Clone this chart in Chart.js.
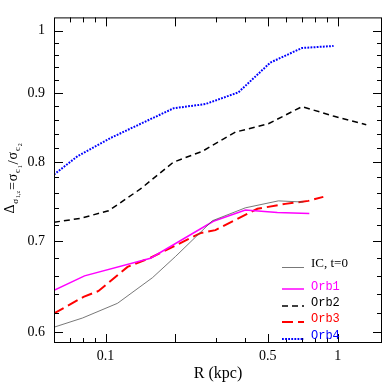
<!DOCTYPE html>
<html>
<head>
<meta charset="utf-8">
<script src="https://cdn.jsdelivr.net/npm/chart.js@4.4.0/dist/chart.umd.min.js"></script>
<style>
  html, body { margin: 0; padding: 0; background: #fff; }
</style>
</head>
<body>
<canvas id="myChart" width="391" height="391"></canvas>
<script>
// R (kpc) and sigma ratio for each run
const rIC = [0.06, 0.0796, 0.1126, 0.1593, 0.2, 0.2885, 0.4, 0.555, 0.711];
const dIC = [0.605, 0.6145, 0.630, 0.658, 0.682, 0.7247, 0.7407, 0.7495, 0.748];

const rOrb1 = [0.06, 0.0812, 0.1562, 0.2913, 0.4, 0.549, 0.754];
const dOrb1 = [0.644, 0.660, 0.680, 0.724, 0.738, 0.735, 0.7336];

const rOrb2 = [0.06, 0.0781, 0.103, 0.1414, 0.1961, 0.2614, 0.3623, 0.5025, 0.7015, 0.956, 1.326];
const dOrb2 = [0.7228, 0.7277, 0.737, 0.7648, 0.8004, 0.8153, 0.8422, 0.8542, 0.8794, 0.8655, 0.8528];

const rOrb3 = [0.06, 0.0804, 0.0933, 0.1244, 0.1562, 0.2563, 0.2972, 0.4506, 0.5943, 0.7465, 0.8662];
const dOrb3 = [0.6193, 0.6369, 0.6433, 0.6701, 0.6806, 0.7096, 0.7132, 0.7395, 0.7457, 0.7495, 0.7546];

const rOrb4 = [0.06, 0.0758, 0.1051, 0.1442, 0.1967, 0.2692, 0.3733, 0.5124, 0.7015, 0.959];
const dOrb4 = [0.7837, 0.8085, 0.8338, 0.8554, 0.877, 0.8832, 0.9009, 0.9476, 0.9713, 0.9746];

const seriesNames = ['IC, t=0', 'Orb1', 'Orb2', 'Orb3', 'Orb4'];

// axis ticks
const xTickVals = [0.07, 0.08, 0.09, 0.1, 0.2, 0.3, 0.4, 0.5, 0.6, 0.7, 0.8, 0.9, 1];
const xMajor = [0.1, 0.2, 0.5, 1];
const xLabels = [0.1, 0.5, 1];
const yTickVals = [0.6, 0.62, 0.64, 0.66, 0.68, 0.7, 0.72, 0.74, 0.76, 0.78, 0.8,
                   0.82, 0.84, 0.86, 0.88, 0.9, 0.92, 0.94, 0.96, 0.98, 1];
const yLabels = [0.6, 0.7, 0.8, 0.9, 1];

const serif = '"Liberation Serif", "DejaVu Serif", serif';
const mono = '"Liberation Mono", "DejaVu Sans Mono", monospace';

const pts = (rs, ds) => rs.map((r, i) => ({x: r, y: ds[i]}));
const isIn = (list, v) => list.some(l => Math.abs(l - v) < 1e-9);

// frame with inward ticks on all four sides
const framePlugin = {
    id: 'frame',
    afterDatasetsDraw(chart) {
        const {ctx, chartArea: a, scales: {x, y}} = chart;
        ctx.save();
        ctx.strokeStyle = '#000';
        ctx.lineWidth = 1;
        ctx.strokeRect(a.left + 0.5, a.top + 0.5, a.right - a.left - 1, a.bottom - a.top - 1);
        ctx.beginPath();
        xTickVals.forEach(v => {
            const px = Math.round(x.getPixelForValue(v)) + 0.5;
            const len = isIn(xMajor, v) ? 9 : 5;
            ctx.moveTo(px, a.bottom); ctx.lineTo(px, a.bottom - len);
            ctx.moveTo(px, a.top); ctx.lineTo(px, a.top + len);
        });
        yTickVals.forEach(v => {
            const py = Math.round(y.getPixelForValue(v)) + 0.5;
            const len = isIn(yLabels, v) ? 9 : 5;
            ctx.moveTo(a.left, py); ctx.lineTo(a.left + len, py);
            ctx.moveTo(a.right, py); ctx.lineTo(a.right - len, py);
        });
        ctx.stroke();
        ctx.restore();
    }
};

// legend in lower right, text coloured like the lines
const legendPlugin = {
    id: 'cornerLegend',
    afterDraw(chart) {
        const {ctx} = chart;
        const lineY = [267.5, 289, 306, 322, 339];
        const textY = [264, 287, 303, 319, 336];
        ctx.save();
        ctx.textAlign = 'left';
        chart.data.datasets.forEach((ds, i) => {
            ctx.beginPath();
            ctx.strokeStyle = ds.borderColor;
            ctx.lineWidth = ds.borderWidth;
            ctx.setLineDash(ds.borderDash || []);
            ctx.moveTo(282, lineY[i]);
            ctx.lineTo(304, lineY[i]);
            ctx.stroke();
            ctx.setLineDash([]);
            ctx.fillStyle = i === 0 ? '#000' : ds.borderColor;
            ctx.font = i === 0 ? '13px ' + serif : '12px ' + mono;
            ctx.textBaseline = 'middle';
            ctx.fillText(ds.label, 311, textY[i]);
        });
        ctx.restore();
    }
};

// y title with subscripts: [text, size, shift below baseline]
const yTitlePlugin = {
    id: 'yTitle',
    afterDraw(chart) {
        const {ctx} = chart;
        const parts = [
            ['\u0394', 14, -3], ['\u03c3', 9, 1], ['1,z', 6, 3], ['=', 14, 0],
            ['\u03c3', 14, 0], ['c', 9, 3], ['1', 6, 5], ['/', 15, 1],
            ['\u03c3', 14, 0], ['c', 9, 3], ['2', 6, 5]
        ];
        ctx.save();
        ctx.translate(17, 178);
        ctx.rotate(-Math.PI / 2);
        ctx.fillStyle = '#000';
        ctx.textAlign = 'left';
        ctx.textBaseline = 'alphabetic';
        let total = 0;
        parts.forEach(p => { ctx.font = p[1] + 'px ' + serif; total += ctx.measureText(p[0]).width + 0.8; });
        let cx = -total / 2;
        parts.forEach(p => {
            ctx.font = p[1] + 'px ' + serif;
            ctx.fillText(p[0], cx, p[2]);
            cx += ctx.measureText(p[0]).width + 0.8;
        });
        ctx.restore();
    }
};

const ctx = document.getElementById('myChart').getContext('2d');

const myChart = new Chart(ctx, {
    type: 'line',
    data: {
        datasets: [{
            label: seriesNames[0],
            data: pts(rIC, dIC),
            borderColor: '#555555',
            borderWidth: 0.8
        }, {
            label: seriesNames[1],
            data: pts(rOrb1, dOrb1),
            borderColor: '#ff00ff',
            borderWidth: 1.5
        }, {
            label: seriesNames[2],
            data: pts(rOrb2, dOrb2),
            borderColor: '#000000',
            borderWidth: 1.5,
            borderDash: [6, 4]
        }, {
            label: seriesNames[3],
            data: pts(rOrb3, dOrb3),
            borderColor: '#ff0000',
            borderWidth: 2,
            borderDash: [11, 5]
        }, {
            label: seriesNames[4],
            data: pts(rOrb4, dOrb4),
            borderColor: '#0000ff',
            borderWidth: 2,
            borderDash: [1.8, 1.3]
        }]
    },
    options: {
        responsive: false,
        maintainAspectRatio: false,
        animation: false,
        devicePixelRatio: 1,
        elements: {
            point: {radius: 0},
            line: {tension: 0, fill: false}
        },
        layout: {padding: {top: 15, right: 9, left: 0, bottom: 0}},
        scales: {
            x: {
                type: 'logarithmic',
                min: 0.06,
                max: 1.55,
                afterBuildTicks: s => { s.ticks = xTickVals.map(v => ({value: v})); },
                afterFit: s => { s.height = 48; },
                grid: {display: false, drawTicks: false},
                border: {display: false},
                ticks: {
                    autoSkip: false,
                    maxRotation: 0,
                    padding: 5,
                    color: '#000',
                    font: {family: serif, size: 14},
                    callback: v => isIn(xLabels, v) ? String(v) : ''
                },
                title: {
                    display: true,
                    text: 'R (kpc)',
                    color: '#000',
                    font: {family: serif, size: 16},
                    padding: {top: 0, bottom: 8}
                }
            },
            y: {
                type: 'logarithmic',
                min: 0.589,
                max: 1.023,
                afterBuildTicks: s => { s.ticks = yTickVals.map(v => ({value: v})); },
                afterFit: s => { s.width = 54; },
                grid: {display: false, drawTicks: false},
                border: {display: false},
                ticks: {
                    autoSkip: false,
                    padding: 9,
                    color: '#000',
                    font: {family: serif, size: 14},
                    callback: v => isIn(yLabels, v) ? String(v) : ''
                }
            }
        },
        plugins: {
            legend: {display: false},
            tooltip: {enabled: false}
        }
    },
    plugins: [framePlugin, legendPlugin, yTitlePlugin]
});
</script>
</body>
</html>
